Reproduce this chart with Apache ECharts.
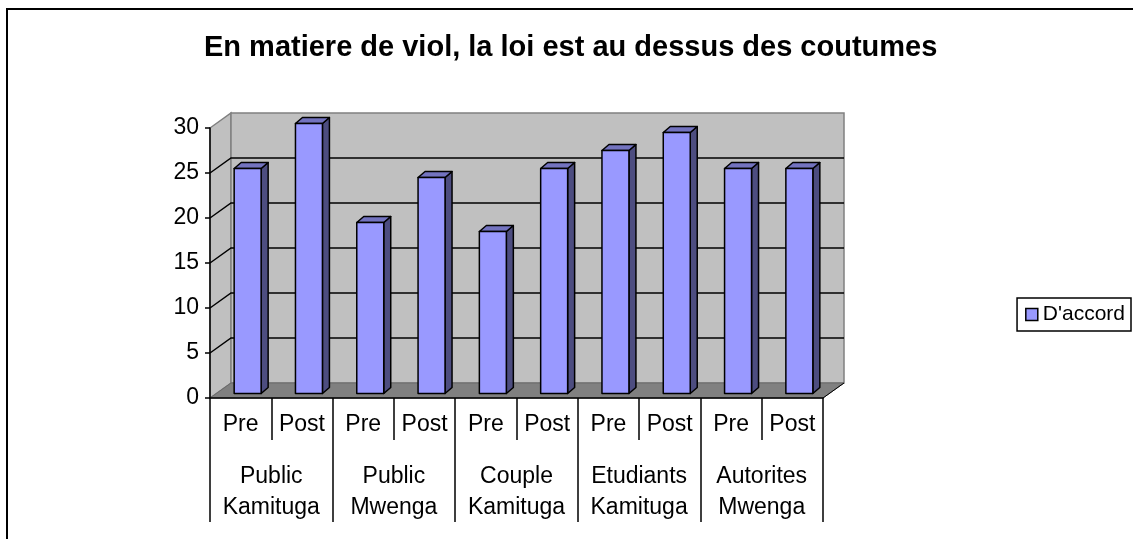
<!DOCTYPE html>
<html>
<head>
<meta charset="utf-8">
<title>En matiere de viol, la loi est au dessus des coutumes</title>
<script src="https://cdn.jsdelivr.net/npm/echarts@6/dist/echarts.min.js"></script>
<style>
  html, body { margin: 0; padding: 0; background: #fff; }
  #main { width: 1133px; height: 539px; }
</style>
</head>
<body>
<div id="main"></div>
<script>
// donnees
var phases = ['Pre', 'Post', 'Pre', 'Post', 'Pre', 'Post', 'Pre', 'Post', 'Pre', 'Post'];
var groups = ['Public\nKamituga', 'Public\nMwenga', 'Couple\nKamituga', 'Etudiants\nKamituga', 'Autorites\nMwenga'];
var daccord = [25, 30, 19, 24, 18, 25, 27, 29, 25, 25];
var yTicks = [0, 5, 10, 15, 20, 25, 30];

// profondeur du faux 3D (pixels)
var DX = 21, DY = 15;
var BAR_OX = 7, BAR_OY = 4.5;   // decalage de la face avant des barres
var BAR_DX = 7, BAR_DY = 6;     // epaisseur des barres
var FONT = '"Liberation Sans", Arial, sans-serif';

// murs, sol et lignes de grille
function renderWalls(params, api) {
    var cs = params.coordSys;
    var gx = cs.x, gy = cs.y, gw = cs.width, gh = cs.height;
    var bottom = gy + gh;
    var children = [];
    children.push({
        type: 'polygon',
        shape: { points: [[gx, gy], [gx + DX, gy - DY], [gx + DX, bottom - DY], [gx, bottom]] },
        style: { fill: '#c0c0c0', stroke: '#808080', lineWidth: 1.5 }
    });
    children.push({
        type: 'rect',
        shape: { x: gx + DX, y: gy - DY, width: gw, height: gh },
        style: { fill: '#c0c0c0', stroke: '#808080', lineWidth: 1.5 }
    });
    children.push({
        type: 'polygon',
        shape: { points: [[gx, bottom], [gx + DX, bottom - DY], [gx + gw + DX, bottom - DY], [gx + gw, bottom]] },
        style: { fill: '#808080', stroke: '#6a6a6a', lineWidth: 1 }
    });
    children.push({
        type: 'line',
        shape: { x1: gx + gw, y1: bottom, x2: gx + gw + DX, y2: bottom - DY },
        style: { stroke: '#000', lineWidth: 1 }
    });
    var top = yTicks[yTicks.length - 1];
    yTicks.forEach(function (v) {
        if (v <= 0 || v >= top) return;
        var y = api.coord([0, v])[1];
        children.push({
            type: 'polyline',
            shape: { points: [[gx, y], [gx + DX, y - DY], [gx + gw + DX, y - DY]] },
            style: { stroke: '#000', lineWidth: 1.5, fill: null }
        });
    });
    return { type: 'group', children: children };
}

// barres en 3D
function renderBar(params, api) {
    var idx = api.value(0);
    var base = api.coord([idx, 0]);
    var head = api.coord([idx, api.value(1)]);
    var bw = api.size([1, 0])[0] * 0.44;
    var x0 = base[0] - bw / 2 + BAR_OX;
    var x1 = x0 + bw;
    var yb = base[1] - BAR_OY;
    var yt = head[1] - BAR_OY;
    var line = { stroke: '#000', lineWidth: 1.5, lineJoin: 'round' };
    return {
        type: 'group',
        children: [
            {
                type: 'polygon',
                shape: { points: [[x1, yb], [x1 + BAR_DX, yb - BAR_DY], [x1 + BAR_DX, yt - BAR_DY], [x1, yt]] },
                style: Object.assign({ fill: '#4d4d80' }, line)
            },
            {
                type: 'polygon',
                shape: { points: [[x0, yt], [x0 + BAR_DX, yt - BAR_DY], [x1 + BAR_DX, yt - BAR_DY], [x1, yt]] },
                style: Object.assign({ fill: '#7373bf' }, line)
            },
            {
                type: 'rect',
                shape: { x: x0, y: yt, width: bw, height: yb - yt },
                style: Object.assign({ fill: '#9999ff' }, line)
            }
        ]
    };
}

var option = {
    backgroundColor: '#fff',
    animation: false,
    title: {
        text: 'En matiere de viol, la loi est au dessus des coutumes',
        left: 204,
        top: 33,
        padding: 0,
        textStyle: { fontFamily: FONT, fontSize: 29, fontWeight: 'bold', color: '#000', lineHeight: 30 }
    },
    legend: {
        data: ["D'accord"],
        right: 2,
        top: 298,
        orient: 'vertical',
        icon: 'rect',
        itemWidth: 12,
        itemHeight: 12,
        itemGap: 6,
        padding: [4, 6, 4, 8],
        borderColor: '#000',
        borderWidth: 1.5,
        itemStyle: { color: '#9999ff', borderColor: '#000', borderWidth: 1.5 },
        textStyle: { fontFamily: FONT, fontSize: 21, color: '#000', lineHeight: 25 }
    },
    grid: { left: 210, top: 128, width: 613, height: 270, containLabel: false },
    xAxis: [
        {
            type: 'category',
            data: phases,
            position: 'bottom',
            z: 5,
            axisLine: { lineStyle: { color: '#000', width: 1.5 } },
            axisTick: { show: true, interval: 0, length: 42, lineStyle: { color: '#000', width: 1.5 } },
            axisLabel: { interval: 0, margin: 14, fontFamily: FONT, fontSize: 23, color: '#000', lineHeight: 26 }
        },
        {
            type: 'category',
            data: groups,
            position: 'bottom',
            z: 5,
            axisLine: { show: false },
            axisTick: { show: true, interval: 0, length: 124, lineStyle: { color: '#000', width: 1.5 } },
            axisLabel: { interval: 0, margin: 63, fontFamily: FONT, fontSize: 23, color: '#000', lineHeight: 31 }
        }
    ],
    yAxis: {
        type: 'value',
        min: 0,
        max: 30,
        interval: 5,
        z: 5,
        axisLine: { show: true, lineStyle: { color: '#000', width: 1.5 } },
        axisTick: { show: true, length: 5, lineStyle: { color: '#000', width: 1.5 } },
        splitLine: { show: false },
        axisLabel: { margin: 11, fontFamily: FONT, fontSize: 23, color: '#000', padding: [6, 0, 0, 0] }
    },
    graphic: [
        {
            type: 'rect',
            shape: { x: 7, y: 9, width: 1140, height: 540 },
            style: { fill: null, stroke: '#000', lineWidth: 2 },
            silent: true
        }
    ],
    series: [
        {
            name: 'walls',
            type: 'custom',
            z: 1,
            clip: false,
            silent: true,
            renderItem: renderWalls,
            data: [[0, 0]]
        },
        {
            name: "D'accord",
            type: 'custom',
            z: 3,
            clip: false,
            itemStyle: { color: '#9999ff', borderColor: '#000' },
            renderItem: renderBar,
            encode: { x: 0, y: 1 },
            data: daccord.map(function (v, i) { return [i, v]; })
        }
    ]
};

var myChart = echarts.init(document.getElementById('main'));
myChart.setOption(option, true);
</script>
</body>
</html>
